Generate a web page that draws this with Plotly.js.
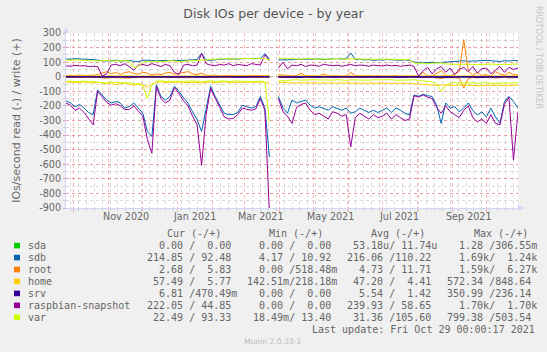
<!DOCTYPE html>
<html>
<head>
<meta charset="utf-8">
<script src="https://cdn.plot.ly/plotly-3.0.1.min.js"></script>
<style>
html,body{margin:0;padding:0;background:#F0F0F0;}
#chart{width:547px;height:352px;}
</style>
</head>
<body>
<div id="chart"></div>
<script>
// ---------- data (one sample every 4 days, 2020-09-24 .. 2021-10-29) ----------
const startDate = '2020-09-24';
const endDate = '2021-10-29';
const stepDays = 4;

const names = ['sda','sdb','root','home','srv','raspbian-snapshot','var'];
const colors = ['#00CC00','#0066B3','#FF8000','#FFCC00','#330099','#990099','#CCFF00'];

const sdaRead = [0,0,0,0,0,0,0,0,0,0, 0,0,0,0,0,0,0,0,0,0, 0,0,0,0,0,0,0,0,0,0, 0,0,0,0,0,0,0,0,0,0,
  0,0,0,0,0,0,null,0,0,0, 0,0,0,0,0,0,0,0,0,0, 0,0,0,0,0,0,0,0,0,0, 0,0,0,0,0,0,0,0,0,0,
  0,0,0,0,0,0,0,0,0,0, 0,0,0,0,0,0,0,0,0,0, 0];
const sdaWrite = sdaRead.slice();

const sdbRead = [-165,-180,-205,-190,-215,-245,-260,-90,-125,-160,
  -180,-170,-180,-215,-205,-180,-215,-250,-375,-410,
  -55,-135,-160,-135,-65,-100,-145,-180,-240,-295,
  -375,-215,-65,-135,-195,-250,-260,-258,-245,-195,
  -205,-215,-205,-135,-215,-550,null,-135,-215,-250,
  -160,-180,-170,-160,-195,-215,-205,-215,-230,-205,
  -215,-230,-215,-250,-240,-215,-230,-245,-230,-245,
  -230,-215,-245,-215,-230,-250,-262,-124,-135,-120,
  -130,-135,-195,-320,-180,-215,-205,-240,-215,-180,
  -230,-262,-240,-275,-215,-275,-320,-170,-135,-170,
  -215];
const sdbWrite = [122,120,124,121,123,119,118,112,110,108,
  111,113,108,110,112,106,104,112,114,110,
  110,113,108,111,113,110,109,113,116,118,
  160,115,112,118,120,122,120,123,121,124,
  125,122,126,126,160,120,null,115,118,116,
  118,120,122,119,121,120,123,118,120,122,
  125,121,124,163,118,120,115,118,112,116,
  114,118,115,117,113,116,112,100,98,95,
  97,100,96,98,100,102,105,108,110,106,
  108,110,107,112,110,108,105,110,108,112,
  110];

const rootRead = [-4,-5,-3,-6,-4,-5,-3,-6,-8,-10,
  -6,-8,-5,-7,-9,-6,-5,-8,-6,-4,
  -5,-4,-6,-8,-5,-6,-7,-9,-6,-5,
  -7,-4,-3,-5,-4,-3,-5,-4,-3,-4,
  -5,-3,-4,-5,-3,-4,null,-6,-4,-3,
  -3,-4,-5,-3,-4,-3,-5,-4,-3,-4,
  -3,-4,-5,-6,-3,-4,-3,-5,-4,-3,
  -4,-3,-5,-4,-3,-4,-5,-3,-4,-8,
  -5,-4,-8,-12,-6,-4,-7,-10,-78,-12,
  -5,-8,-4,-6,-4,-9,-6,-4,-8,-5,
  -6];
const rootWrite = [8,10,6,12,9,7,10,15,25,35,
  20,30,15,28,35,22,18,30,25,12,
  20,15,25,30,18,22,28,35,20,15,
  25,10,8,12,6,9,10,7,8,5,
  10,6,8,9,7,10,null,15,10,8,
  5,8,25,6,4,7,5,20,6,8,
  5,4,6,30,7,5,4,6,5,8,
  4,6,5,7,4,5,6,4,5,30,
  8,6,25,40,10,5,20,35,255,40,
  10,30,8,15,5,35,20,10,30,15,
  12];

const homeRead = [-37,-35,-38,-40,-36,-39,-42,-38,-45,-50,
  -40,-55,-48,-42,-50,-60,-45,-55,-70,-50,
  -38,-36,-40,-38,-35,-37,-40,-38,-36,-39,
  -42,-38,-36,-40,-37,-35,-39,-38,-36,-40,
  -38,-37,-39,-36,-40,-45,null,-40,-38,-42,
  -42,-44,-40,-43,-45,-41,-44,-42,-40,-43,
  -45,-41,-44,-42,-40,-43,-45,-41,-44,-42,
  -43,-45,-41,-44,-42,-43,-45,-48,-50,-52,
  -55,-58,-60,-56,-58,-62,-60,-57,-59,-61,
  -58,-60,-62,-59,-57,-60,-58,-61,-59,-60,
  -58];
const homeWrite = [5,4,6,5,7,4,5,6,8,5,
  6,4,5,7,5,6,4,5,8,6,
  5,4,6,5,4,5,6,4,5,6,
  8,5,4,6,5,4,5,6,4,5,
  6,5,4,5,6,8,null,5,4,6,
  5,4,6,5,4,5,6,4,5,6,
  4,5,6,4,5,6,5,4,6,5,
  4,6,5,4,5,6,4,5,6,4,
  5,6,4,5,8,6,5,4,6,5,
  4,6,5,4,5,6,4,5,6,5,
  6];

const srvRead = [-3,-2,-4,-3,-4,-2,-3,-4,-2,-3,
  -4,-3,-2,-4,-3,-4,-2,-3,-4,-3,
  -2,-4,-3,-4,-3,-2,-4,-3,-2,-4,
  -3,-4,-2,-3,-4,-3,-2,-4,-3,-4,
  -3,-2,-4,-3,-2,-4,null,-3,-4,-2,
  -4,-3,-5,-2,-4,-3,-5,-2,-4,-3,
  -5,-2,-4,-5,-3,-4,-2,-5,-3,-4,
  -2,-4,-3,-5,-2,-4,-3,-5,-4,-3,
  -4,-2,-5,-3,-4,-5,-3,-2,-5,-4,
  -3,-5,-2,-4,-3,-5,-4,-2,-5,-3,
  -4];
const srvWrite = [1,1,1,0,1,1,1,1,0,1,
  1,1,1,1,1,0,1,1,1,1,
  1,1,1,0,1,1,1,1,1,1,
  0,1,1,1,1,1,1,0,1,1,
  1,1,1,1,0,1,null,1,1,1,
  1,0,2,1,1,2,1,0,1,2,
  1,1,2,1,0,1,2,1,1,2,
  1,2,1,0,2,1,1,2,1,1,
  2,1,1,2,0,1,2,1,1,2,
  1,1,2,1,0,2,1,1,2,1,
  1];

const raspRead = [-180,-195,-230,-215,-245,-290,-330,-100,-140,-175,
  -195,-185,-200,-225,-225,-200,-235,-270,-430,-525,
  -65,-150,-180,-160,-75,-115,-165,-200,-270,-330,
  -607,-260,-80,-150,-210,-275,-290,-285,-260,-215,
  -225,-230,-220,-150,-230,-930,null,-150,-240,-270,
  -320,-210,-190,-180,-230,-260,-250,-270,-290,-240,
  -250,-270,-260,-480,-280,-250,-270,-290,-260,-280,
  -270,-250,-290,-260,-280,-300,-290,-130,-140,-125,
  -140,-150,-210,-250,-200,-240,-260,-280,-230,-200,
  -280,-310,-290,-320,-260,-320,-330,-190,-140,-572,
  -240];
const raspWrite = [75,72,78,74,76,70,72,70,5,20,
  80,85,75,90,70,45,80,85,75,90,
  80,70,85,75,30,15,80,85,75,80,
  160,90,80,75,85,80,90,75,85,80,
  75,90,85,80,150,110,null,60,100,55,
  80,75,85,70,80,78,72,85,80,75,
  80,72,78,85,75,80,78,72,80,76,
  74,80,75,78,72,76,80,70,5,40,
  65,20,55,70,30,60,15,50,65,35,
  70,25,55,60,20,45,70,30,65,50,
  60];

const varRead = [-32,-30,-35,-33,-30,-34,-32,-38,-40,-42,
  -36,-40,-38,-44,-40,-45,-50,-60,-147,-60,
  -30,-28,-32,-30,-27,-30,-33,-30,-28,-31,
  -35,-30,-28,-32,-30,-29,-33,-30,-28,-32,
  -30,-34,-31,-30,-35,-308,null,-28,-30,-27,
  -22,-20,-24,-21,-23,-20,-22,-24,-21,-23,
  -20,-22,-25,-21,-23,-20,-22,-24,-21,-20,
  -23,-22,-20,-24,-21,-23,-22,-20,-25,-28,
  -30,-35,-50,-100,-60,-45,-40,-45,-42,-44,
  -40,-46,-43,-41,-45,-44,-42,-46,-40,-44,
  -42];
const varWrite = [115,112,116,114,112,110,108,108,110,112,
  108,110,112,110,108,60,70,100,105,102,
  108,104,106,110,108,104,106,108,105,110,
  112,115,118,120,122,125,122,120,124,126,
  128,125,122,128,125,115,null,128,126,125,
  122,124,120,123,125,121,124,122,120,123,
  125,122,120,124,121,123,120,122,118,121,
  119,122,120,118,121,119,117,95,92,94,
  90,93,95,96,88,85,87,84,86,88,
  85,83,86,84,87,85,82,86,84,88,
  85];

const readSeries = [sdaRead, sdbRead, rootRead, homeRead, srvRead, raspRead, varRead];
const writeSeries = [sdaWrite, sdbWrite, rootWrite, homeWrite, srvWrite, raspWrite, varWrite];

// legend table values (read / write)
const curCol = ['  0.00 /  0.00', '214.85 / 92.48', '  2.68 /  5.83', ' 57.49 /  5.77', '  6.81 /470.49m', '222.05 / 44.85', ' 22.49 / 93.33'];
const minCol = ['  0.00 /  0.00', '  4.17 / 10.92', '  0.00 /518.48m', '142.51m/218.18m', '  0.00 /  0.00', '  0.00 /  0.00', ' 18.49m/ 13.40'];
const avgCol = [' 53.18u/ 11.74u', '216.06 /110.22', '  4.73 / 11.71', ' 47.20 /  4.41', '  5.54 /  1.42', '239.93 / 58.65', ' 31.36 /105.60'];
const maxCol = ['  1.28 /306.55m', '  1.69k/  1.24k', '  1.59k/  6.27k', '572.34 /848.64', '350.99 /236.14', '  1.70k/  1.70k', '799.38 /503.54'];
const colHeaders = ['Cur (-/+)', 'Min (-/+)', 'Avg (-/+)', 'Max (-/+)'];

const yTicks = [300,200,100,0,-100,-200,-300,-400,-500,-600,-700,-800,-900];
const xLabels = ['Nov 2020','Jan 2021','Mar 2021','May 2021','Jul 2021','Sep 2021'];
const xLabelDates = ['2020-11-16','2021-01-16','2021-03-16','2021-05-16','2021-07-16','2021-09-16'];

const titleText = 'Disk IOs per device - by year';
const yTitleText = 'IOs/second read (-) / write (+)';
const lastUpdate = 'Last update: Fri Oct 29 00:00:17 2021';
const watermark = 'RRDTOOL / TOBI OETIKER';
const version = 'Munin 2.0.33-1';

// ---------- build ----------
const t0 = Date.parse(startDate + 'T00:00:00Z');
const dates = sdbRead.map((_, i) => new Date(t0 + i * stepDays * 86400000).toISOString().slice(0, 10));

const traces = [];
names.forEach((n, k) => {
  traces.push({x: dates, y: readSeries[k], type: 'scatter', mode: 'lines', name: n + ' read',
    line: {color: colors[k], width: 1}, connectgaps: false, hoverinfo: 'skip'});
  traces.push({x: dates, y: writeSeries[k], type: 'scatter', mode: 'lines', name: n,
    line: {color: colors[k], width: 1}, connectgaps: false, hoverinfo: 'skip'});
});

const L = 66, R = 518, T = 33, B = 208;
const px = x => (x - L) / (R - L);
const py = y => (B - y) / (B - T);
const nb = s => s.replace(/ /g, '\u00A0');

const FONT = 'DejaVu Sans';
const MONO = 'DejaVu Sans Mono';
const TXT = '#666666';

const annotations = [];
xLabels.forEach((lab, i) => annotations.push({
  x: xLabelDates[i], xref: 'x', y: py(216.7), yref: 'paper', text: lab, showarrow: false,
  xanchor: 'center', yanchor: 'middle', borderpad: 0, font: {family: FONT, size: 9.6, color: TXT}
}));

const cellX = [146.3, 246.3, 345.7, 445.7];
const headX = [165.7, 268.3, 370, 473.3];
colHeaders.forEach((h, c) => annotations.push({
  x: px(headX[c]), xref: 'paper', y: py(233.5), yref: 'paper', text: nb(h), showarrow: false,
  xanchor: 'left', yanchor: 'middle', borderpad: 0, font: {family: MONO, size: 10, color: TXT}
}));
const cols = [curCol, minCol, avgCol, maxCol];
const shapes = [];
names.forEach((n, k) => {
  const ry = 245.6 + 11.95 * k;
  annotations.push({x: px(26.5), xref: 'paper', y: py(ry), yref: 'paper', text: nb(n), showarrow: false,
    xanchor: 'left', yanchor: 'middle', borderpad: 0, font: {family: MONO, size: 10, color: TXT}});
  cols.forEach((col, c) => annotations.push({
    x: px(cellX[c]), xref: 'paper', y: py(ry), yref: 'paper', text: nb(col[k]), showarrow: false,
    xanchor: 'left', yanchor: 'middle', borderpad: 0, font: {family: MONO, size: 10, color: TXT}
  }));
  shapes.push({type: 'rect', xref: 'paper', yref: 'paper', x0: px(14), x1: px(20),
    y0: py(ry + 2.8), y1: py(ry - 2.8), fillcolor: colors[k], line: {width: 0}});
});
annotations.push({x: px(311), xref: 'paper', y: py(329.5), yref: 'paper', text: nb(lastUpdate), showarrow: false,
  xanchor: 'left', yanchor: 'middle', borderpad: 0, font: {family: MONO, size: 10, color: TXT}});
annotations.push({x: px(243), xref: 'paper', y: py(341), yref: 'paper', text: version, showarrow: false,
  xanchor: 'left', yanchor: 'middle', borderpad: 0, font: {family: FONT, size: 7.6, color: '#BBBBBB'}});
annotations.push({x: px(539), xref: 'paper', y: py(57), yref: 'paper', text: watermark, showarrow: false,
  textangle: 90, xanchor: 'center', yanchor: 'middle', borderpad: 0, font: {family: FONT, size: 8, color: '#C4C4C4'}});

// axis arrows
const P = (x, y) => px(x).toFixed(5) + ',' + py(y).toFixed(5);
shapes.push({type: 'path', xref: 'paper', yref: 'paper', path: 'M' + P(63, 33) + ' L' + P(66, 27) + ' L' + P(69, 33) + ' Z',
  fillcolor: '#CFD6F8', line: {width: 0}});
shapes.push({type: 'path', xref: 'paper', yref: 'paper', path: 'M' + P(518, 205) + ' L' + P(524, 208) + ' L' + P(518, 211) + ' Z',
  fillcolor: '#CFD6F8', line: {width: 0}});

const MAJOR = 'rgba(255,90,90,0.45)';
const MINOR = 'rgba(130,130,130,0.30)';

const layout = {
  width: 547, height: 352,
  margin: {l: L, r: 547 - R, t: T, b: 352 - B, pad: 0},
  paper_bgcolor: '#F0F0F0', plot_bgcolor: '#FFFFFF',
  showlegend: false,
  title: {text: titleText, x: 0.5, xanchor: 'center', xref: 'container', y: 1 - 13.5 / 352, yref: 'container', yanchor: 'middle',
    font: {family: FONT, size: 12.5, color: '#555555'}},
  xaxis: {type: 'date', range: [startDate, endDate], tickmode: 'linear', tick0: '2020-10-01', dtick: 'M1',
    showticklabels: false, showgrid: true, gridcolor: MAJOR, griddash: 'dot', gridwidth: 1,
    ticks: 'outside', ticklen: 3, tickcolor: MAJOR, showline: true, linecolor: '#CFD6F8', linewidth: 1,
    zeroline: false, fixedrange: true,
    minor: {tickmode: 'linear', tick0: '2020-09-28', dtick: 7 * 86400000, showgrid: true, gridcolor: MINOR,
      griddash: 'dot', gridwidth: 1, ticks: 'outside', ticklen: 2, tickcolor: MINOR}},
  yaxis: {range: [-900, 300], tickmode: 'array', tickvals: yTicks, ticktext: yTicks.map(String),
    showgrid: true, gridcolor: MAJOR, griddash: 'dot', gridwidth: 1,
    ticks: 'outside', ticklen: 2, tickcolor: MAJOR, showline: true, linecolor: '#CFD6F8', linewidth: 1,
    zeroline: false, fixedrange: true,
    tickfont: {family: FONT, size: 9.6, color: TXT},
    minor: {tickmode: 'linear', tick0: 0, dtick: 50, showgrid: true, gridcolor: MINOR, griddash: 'dot', gridwidth: 1,
      ticks: 'outside', ticklen: 2, tickcolor: MINOR},
    title: {text: yTitleText, standoff: 16, font: {family: FONT, size: 11, color: TXT}}},
  annotations: annotations,
  shapes: shapes
};

Plotly.newPlot('chart', traces, layout, {displayModeBar: false, staticPlot: true});
</script>
</body>
</html>
